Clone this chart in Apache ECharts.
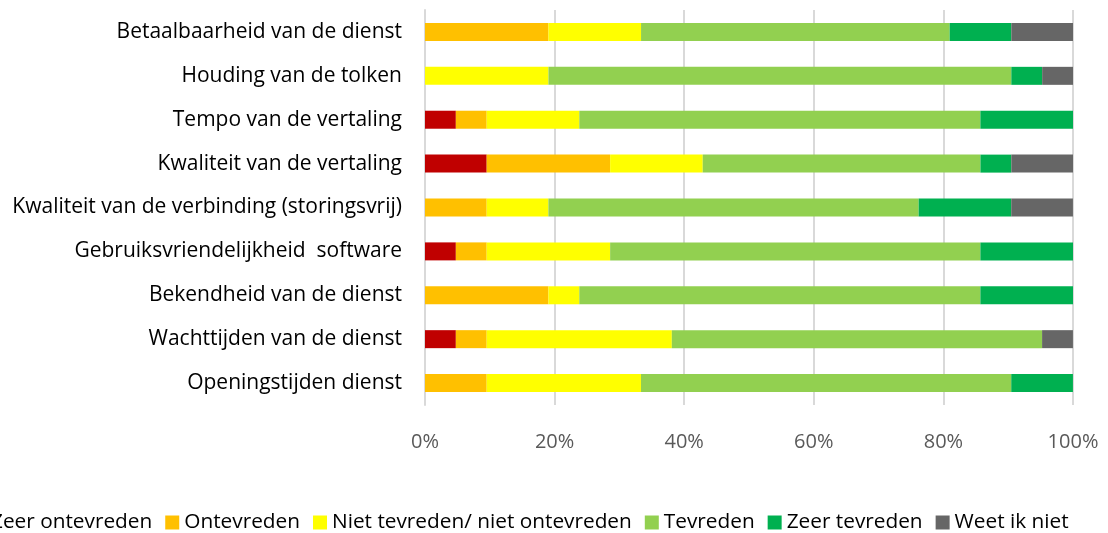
<!DOCTYPE html>
<html><head><meta charset="utf-8">
<script src="https://cdn.jsdelivr.net/npm/echarts@6/dist/echarts.min.js"></script>
<style>html,body{margin:0;padding:0;background:#fff}#c{width:1108px;height:533px}</style>
</head><body><div id="c"></div>
<script>
var categories = ["Betaalbaarheid van de dienst","Houding van de tolken","Tempo van de vertaling","Kwaliteit van de vertaling","Kwaliteit van de verbinding (storingsvrij)","Gebruiksvriendelijkheid  software","Bekendheid van de dienst","Wachttijden van de dienst","Openingstijden dienst"];
var seriesNames = ["Zeer ontevreden","Ontevreden","Niet tevreden/ niet ontevreden","Tevreden","Zeer tevreden","Weet ik niet"];
var zeerOntevreden = [0, 0, 4.76, 9.52, 0, 4.76, 0, 4.76, 0];
var ontevreden     = [19.05, 0, 4.76, 19.05, 9.52, 4.76, 19.05, 4.76, 9.52];
var neutraal       = [14.29, 19.05, 14.29, 14.29, 9.52, 19.05, 4.76, 28.57, 23.81];
var tevreden       = [47.62, 71.43, 61.90, 42.86, 57.14, 57.14, 61.90, 57.14, 57.14];
var zeerTevreden   = [9.52, 4.76, 14.29, 4.76, 14.29, 14.29, 14.29, 0, 9.52];
var weetIkNiet     = [9.52, 4.76, 0, 9.52, 9.52, 0, 0, 4.76, 0];
var tickLabels = ["0%","20%","40%","60%","80%","100%"];
var colors = ["#C00000","#FFC000","#FFFF00","#92D050","#00B050","#666666"];
var values = [zeerOntevreden, ontevreden, neutraal, tevreden, zeerTevreden, weetIkNiet];
var font = "'Open Sans', sans-serif";
var chart = echarts.init(document.getElementById('c'));
chart.setOption({
  animation:false,
  color: colors,
  textStyle:{fontFamily:font},
  grid:{left:425, right:35, top:10, bottom:128, containLabel:false},
  legend:{
    left:-28, top:512, width:3000, itemWidth:14, itemHeight:14, itemGap:13, padding:0,
    icon:'rect',
    textStyle:{fontSize:20.8, color:'#000', fontFamily:font},
    data: seriesNames
  },
  xAxis:{
    type:'value', min:0, max:100, interval:20,
    axisLine:{show:false}, axisTick:{show:false},
    splitLine:{lineStyle:{color:'#d9d9d9', width:2}},
    axisLabel:{margin:27, fontSize:20, color:'#595959', fontFamily:font,
      formatter:function(v){return tickLabels[Math.round(v/20)];}}
  },
  yAxis:{
    type:'category', inverse:true, data:categories,
    axisLine:{show:true, lineStyle:{color:'#d9d9d9', width:2}}, axisTick:{show:false},
    axisLabel:{margin:23, fontSize:21, color:'#000', fontFamily:font}
  },
  series: seriesNames.map(function(n,i){
    return {name:n, type:'bar', stack:'s', barWidth:18, data:values[i], itemStyle:{color:colors[i]}};
  })
});
</script></body></html>
